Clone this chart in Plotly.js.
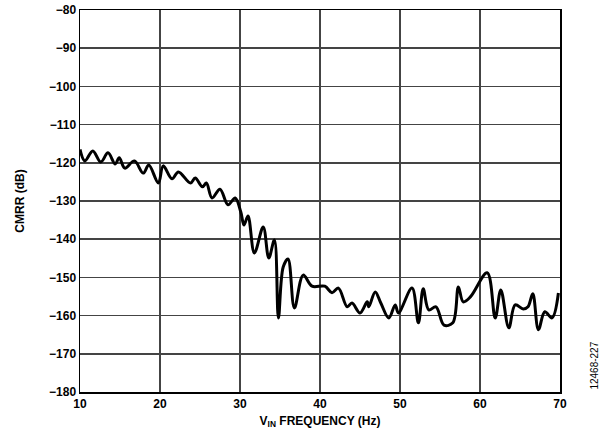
<!DOCTYPE html>
<html>
<head>
<meta charset="utf-8">
<script src="https://cdn.plot.ly/plotly-3.0.1.min.js"></script>
<style>body{margin:0;background:#fff}#chart{width:607px;height:448px}</style>
</head>
<body>
<div id="chart"></div>
<script>
// CMRR vs input frequency
const freq = [10, 10.6, 11.6, 12.6, 13.5, 14.4, 14.9, 15.6, 16.8, 17.9, 18.6, 19.8, 20.4, 21.5, 22.3, 23.8, 24.4, 25.3, 25.8, 26.5, 27.5, 28.5, 29.4, 30.1, 30.5, 31, 31.8, 32.9, 33.6, 34.3, 34.8, 35.4, 36, 36.8, 37.9, 39, 40.6, 41.5, 42.3, 43.4, 44, 45, 45.9, 46.1, 46.9, 47.6, 48.6, 49.4, 49.8, 51.5, 52.3, 52.9, 53.6, 54.5, 55.5, 56.6, 57.3, 57.9, 58.8, 60.9, 61.9, 62.6, 63.6, 64.4, 65.4, 66, 66.6, 67.3, 68.1, 69, 69.8];
const cmrr = [-116.5, -119.5, -116.9, -119.8, -117.4, -120.3, -118.7, -121.4, -119.5, -122.7, -120.6, -125.3, -120.8, -124.2, -122.4, -125.3, -124, -126.3, -125.3, -129.2, -126.9, -131, -129.2, -132.9, -136.3, -133.9, -143.6, -136.8, -144.9, -140.2, -160.6, -147.3, -145.2, -158, -149.4, -152.3, -152.3, -154, -152.8, -157.7, -156.7, -159.3, -156.4, -157.7, -153.8, -156.7, -160.6, -157.2, -159.3, -152.8, -161.9, -153, -158.5, -157.7, -162.5, -161.9, -152.5, -156.4, -155.1, -148.8, -160.6, -153.3, -163.2, -157.2, -158.3, -157.7, -154.3, -163.7, -159, -160.6, -154.1];

const xTicks = [10, 20, 30, 40, 50, 60, 70];
const yTicks = [-80, -90, -100, -110, -120, -130, -140, -150, -160, -170, -180];

const tickFont = { family: 'Arial, "Liberation Sans", sans-serif', size: 12, color: '#000', weight: 'bold' };

const data = [{
  x: freq,
  y: cmrr,
  type: 'scatter',
  mode: 'lines',
  line: { color: '#000', width: 3, shape: 'spline', smoothing: 1 },
  hoverinfo: 'skip',
}];

const layout = {
  width: 607,
  height: 448,
  margin: { t: 10, l: 80, r: 47, b: 56 },
  paper_bgcolor: '#fff',
  plot_bgcolor: '#fff',
  showlegend: false,
  xaxis: {
    range: [10, 70],
    tickvals: xTicks,
    ticktext: xTicks.map(String),
    showgrid: true,
    gridcolor: '#444',
    gridwidth: 1.5,
    showline: true,
    linecolor: '#000',
    linewidth: 1.5,
    mirror: true,
    ticks: '',
    zeroline: false,
    tickfont: tickFont,
    title: { text: 'V<sub>IN</sub> FREQUENCY (Hz)', font: tickFont, standoff: 6 },
  },
  yaxis: {
    range: [-180, -80],
    tickvals: yTicks,
    ticktext: yTicks.map(v => '\u2212' + Math.abs(v)),
    showgrid: true,
    gridcolor: '#444',
    gridwidth: 1.5,
    showline: true,
    linecolor: '#000',
    linewidth: 1.5,
    mirror: true,
    ticks: '',
    zeroline: false,
    tickfont: tickFont,
    title: { text: 'CMRR (dB)', font: tickFont, standoff: 22 },
  },
  annotations: [{
    text: '12468-227',
    xref: 'paper', yref: 'paper',
    x: 1.07, y: 0,
    xanchor: 'center', yanchor: 'bottom',
    textangle: -90,
    showarrow: false,
    font: { family: 'Arial, "Liberation Sans", sans-serif', size: 10, color: '#000' },
  }],
};

Plotly.newPlot('chart', data, layout, { displayModeBar: false, staticPlot: true });
</script>
</body>
</html>
